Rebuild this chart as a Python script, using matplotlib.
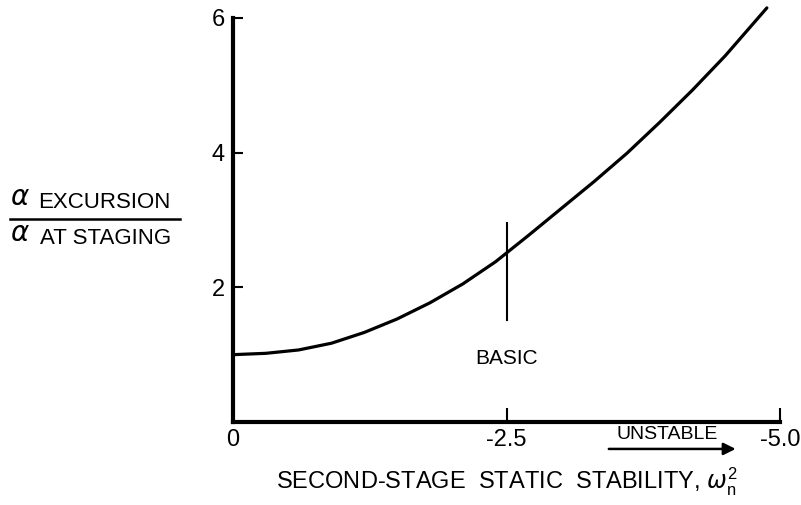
import numpy as np
import matplotlib.pyplot as plt
from matplotlib.lines import Line2D

plt.rcParams['font.family'] = ['Liberation Sans', 'DejaVu Sans']
plt.rcParams['axes.unicode_minus'] = False
plt.rcParams['mathtext.fontset'] = 'custom'
plt.rcParams['mathtext.rm'] = 'Liberation Sans'
plt.rcParams['mathtext.it'] = 'DejaVu Sans:italic'

# curve
stability = [0, -0.3, -0.6, -0.9, -1.2, -1.5, -1.8, -2.1, -2.4, -2.7, -3.0, -3.3,
             -3.6, -3.9, -4.2, -4.5, -4.88]
ratio = [1.00, 1.02, 1.07, 1.17, 1.33, 1.53, 1.77, 2.05, 2.38, 2.77, 3.17, 3.57,
         3.99, 4.45, 4.93, 5.44, 6.15]

xticks = [0, -2.5, -5.0]
xticklabels = ['0', '-2.5', '-5.0']
yticks = [2, 4, 6]
yticklabels = ['2', '4', '6']

basic_x = -2.5
basic_range = [1.51, 2.96]
unstable_arrow = [-3.41, -4.62]

fig = plt.figure(figsize=(8.01, 5.05), dpi=100)
ax = fig.add_axes([233/801, 83/505, (780-233)/801, (422-18)/505])

ax.plot(stability, ratio, color='black', lw=2.3, clip_on=False,
        solid_joinstyle='round', solid_capstyle='round')
ax.plot([basic_x, basic_x], basic_range, color='black', lw=1.5)
ax.text(basic_x, 0.95, 'BASIC', ha='center', va='center', fontsize=15)

ax.set_xlim(0, -5.0)
ax.set_ylim(0, 6)

for s in ['top', 'right']:
    ax.spines[s].set_visible(False)
ax.spines['left'].set_linewidth(3)
ax.spines['bottom'].set_linewidth(3)

ax.set_xticks(xticks)
ax.set_xticklabels(xticklabels, fontsize=17)
ax.set_yticks(yticks)
ax.set_yticklabels(yticklabels, fontsize=17)
ax.tick_params(axis='x', direction='in', length=10, width=1.5, pad=5)
ax.tick_params(axis='y', direction='in', length=7, width=1.5, pad=6)
ax.xaxis.get_major_ticks()[0].tick1line.set_visible(False)

# unstable arrow under the axis
ax.annotate('', xy=(unstable_arrow[1], -0.4), xytext=(unstable_arrow[0], -0.4),
            xycoords='data', annotation_clip=False,
            arrowprops=dict(arrowstyle='-|>', color='black', lw=1.8, mutation_scale=18))
ax.text(sum(unstable_arrow)/2 + 0.05, -0.19, 'UNSTABLE', ha='center', va='center',
        fontsize=14, clip_on=False)

fig.text(507/801, 1 - 482/505, r'SECOND-STAGE  STATIC  STABILITY, $\omega_{\mathrm{n}}^{2}$',
         ha='center', va='center', fontsize=17)

# y label as a fraction
fig.text(10/801, 1 - 198/505, r'$\alpha$', ha='left', va='center', fontsize=20)
fig.text(38/801, 1 - 203/505, 'EXCURSION', ha='left', va='center', fontsize=16)
fig.add_artist(Line2D([10/801, 180/801], [1 - 219/505, 1 - 219/505], color='black', lw=1.8))
fig.text(10/801, 1 - 234/505, r'$\alpha$', ha='left', va='center', fontsize=20)
fig.text(40/801, 1 - 239/505, 'AT STAGING', ha='left', va='center', fontsize=16)

fig.savefig('out.png', dpi=100)
